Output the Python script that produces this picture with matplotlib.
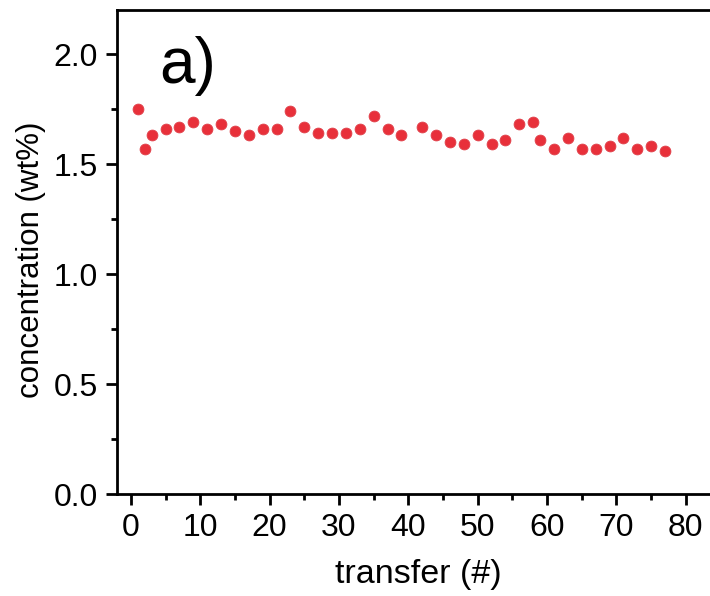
import matplotlib
matplotlib.use('Agg')
import matplotlib.pyplot as plt
from matplotlib.ticker import MultipleLocator

plt.rcParams['font.family'] = ['Liberation Sans', 'DejaVu Sans']

# transfer number and measured concentration
transfer = [1, 2, 3, 5, 7, 9, 11, 13, 15, 17, 19, 21, 23, 25, 27, 29, 31, 33,
            35, 37, 39, 42, 44, 46, 48, 50, 52, 54, 56, 58, 59, 61, 63, 65,
            67, 69, 71, 73, 75, 77]
conc = [1.75, 1.57, 1.63, 1.66, 1.67, 1.69, 1.66, 1.68, 1.65, 1.63, 1.66,
        1.66, 1.74, 1.67, 1.64, 1.64, 1.64, 1.66, 1.72, 1.66, 1.63, 1.67,
        1.63, 1.60, 1.59, 1.63, 1.59, 1.61, 1.68, 1.69, 1.61, 1.57, 1.62,
        1.57, 1.57, 1.58, 1.62, 1.57, 1.58, 1.56]

fig = plt.figure(figsize=(7.1, 5.96), dpi=100)
ax = fig.add_axes([0.1648, 0.1711, 0.850, 0.8121])

ax.plot(transfer, conc, 'o', color='#E8303A', markersize=7.8,
        markeredgewidth=0.6, markeredgecolor='#E0404A')

ax.set_xlim(-2, 85)
ax.set_ylim(0, 2.2)
ax.xaxis.set_major_locator(MultipleLocator(10))
ax.xaxis.set_minor_locator(MultipleLocator(5))
ax.yaxis.set_major_locator(MultipleLocator(0.5))
ax.yaxis.set_minor_locator(MultipleLocator(0.25))
ax.yaxis.set_major_formatter(plt.FormatStrFormatter('%.1f'))

for s in ax.spines.values():
    s.set_linewidth(2)
ax.tick_params(which='major', direction='out', length=8, width=2,
               labelsize=23, pad=6)
ax.tick_params(which='minor', direction='out', length=4, width=2)
ax.tick_params(top=False, right=False, which='both')

ax.set_xlabel('transfer (#)', fontsize=24.5, labelpad=11)
ax.set_ylabel('concentration (wt%)', fontsize=22.5)
ax.yaxis.set_label_coords(-0.118, 0.483)

ax.text(0.07, 0.849, 'a)', transform=ax.transAxes, fontsize=46,
        va='baseline', ha='left')

fig.savefig('out.png', dpi=100)
